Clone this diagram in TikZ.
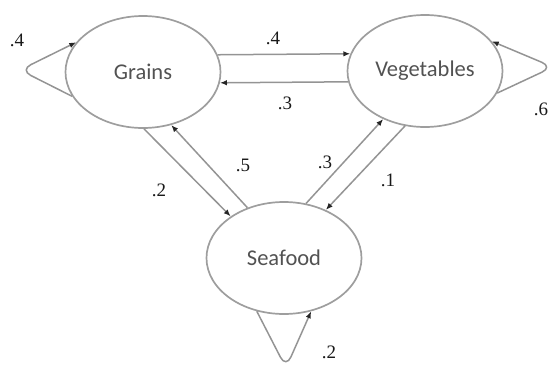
\documentclass[tikz,border=0pt]{standalone}
\usepackage{fontspec}
\usetikzlibrary{arrows.meta,shapes.geometric}
\newfontfamily\nodefont{Carlito}
\newfontfamily\labfont{Liberation Serif}
\begin{document}
\begin{tikzpicture}[x=1pt,y=-1pt,
  state/.style={ellipse,draw=black!38,line width=1.7pt,minimum width=155pt,minimum height=112pt,inner sep=0pt,font=\nodefont\fontsize{22.5}{26}\selectfont,text=black!68},
  edge/.style={draw=black!42,line width=1.5pt,-{Latex[length=7pt,width=5.5pt,color=black!85]}},
  loopedge/.style={edge,rounded corners=12pt},
  lab/.style={font=\labfont\fontsize{19}{21}\selectfont,text=black!90,inner sep=0pt}]
\useasboundingbox (0,0) rectangle (555,365);
\node[state] (g) at (143,72) {Grains};
\node[state] (v) at (425,71) {Vegetables};
\node[state] (s) at (284,258) {Seafood};
\coordinate (gtip) at (20,70);
\coordinate (vtip) at (553,67);
\coordinate (stip) at (286,368);
% horizontal pair
\draw[edge] (g.13) -- (v.167);
\draw[edge] (v.188) -- (g.-8);
% grains - seafood
\draw[edge] (g.-89) -- (s.142);
\draw[edge] (s.126) -- (g.-62);
% seafood - vegetables
\draw[edge] (s.68) -- (v.229);
\draw[edge] (v.250) -- (s.49);
% loops
\draw[loopedge] (g.199) -- (gtip) -- (g.156);
\draw[loopedge] (v.-17) -- (vtip) -- (v.24);
\draw[loopedge] (s.-117) -- (stip) -- (s.-63);
% labels
\node[lab] (l1) at (17,40) {.4};
\node[lab] (l2) at (273,38) {.4};
\node[lab] (l3) at (285,103) {.3};
\node[lab] (l4) at (541,109) {.6};
\node[lab] (l5) at (159,190) {.2};
\node[lab] (l6) at (243,165) {.5};
\node[lab] (l7) at (325,162) {.3};
\node[lab] (l8) at (388,180) {.1};
\node[lab] (l9) at (329,352) {.2};
\end{tikzpicture}
\end{document}
